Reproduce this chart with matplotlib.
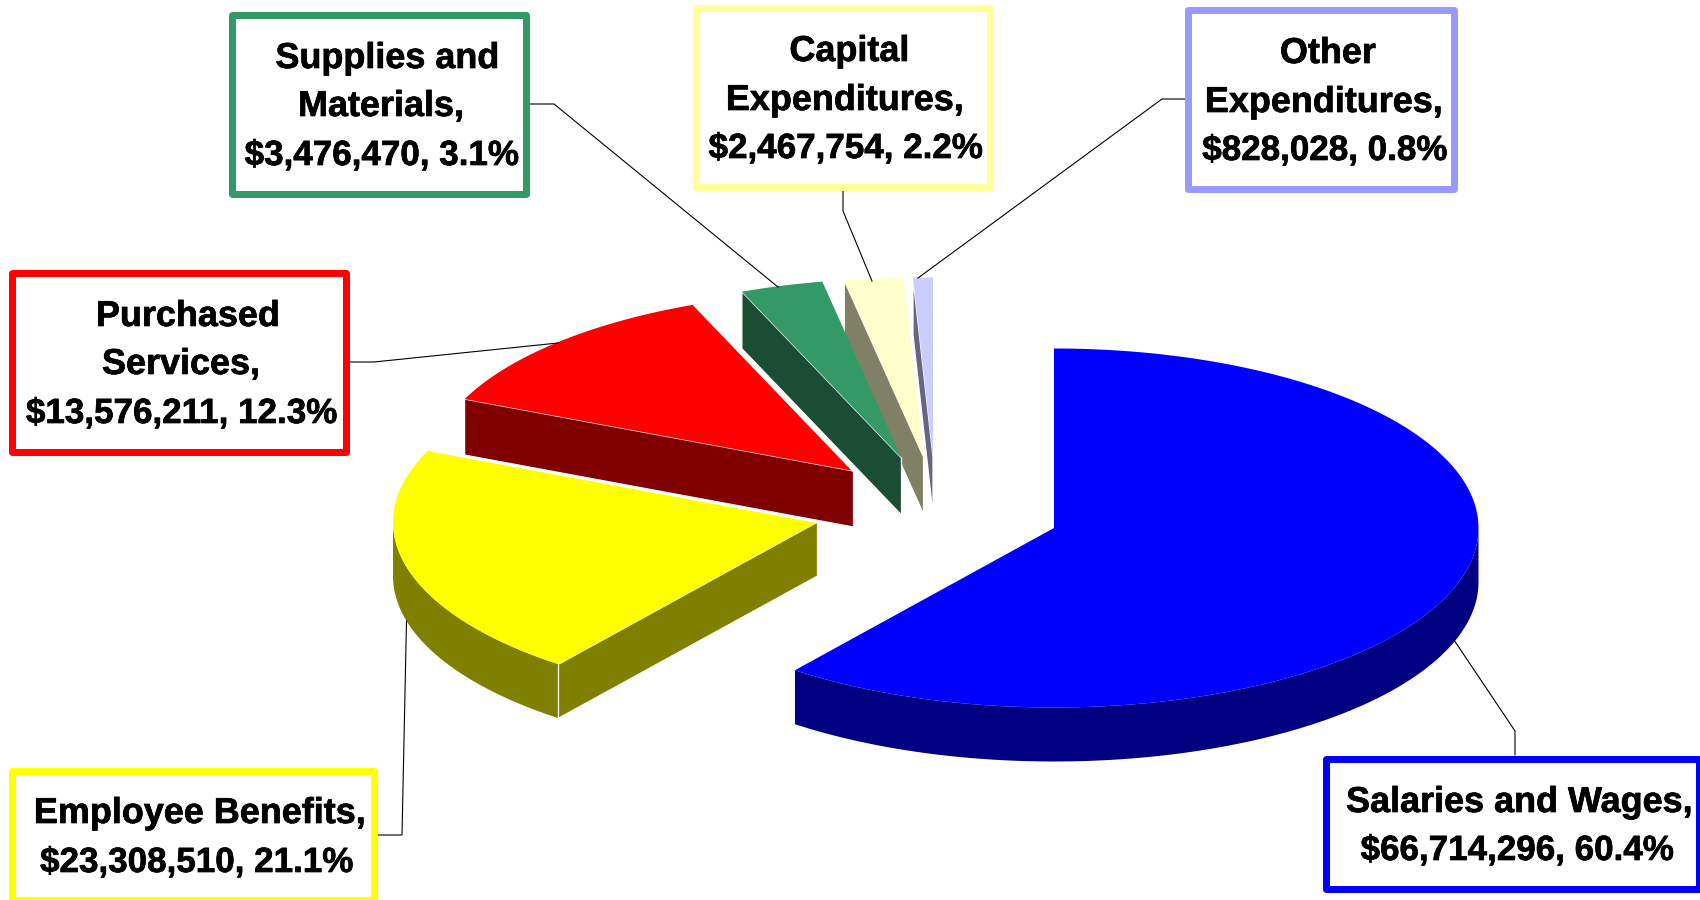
import numpy as np
import matplotlib
matplotlib.use("Agg")
import matplotlib.pyplot as plt
import matplotlib.patheffects as pe
from matplotlib.patches import Polygon, Rectangle

# ---- data ----
categories = ["Salaries and Wages", "Employee Benefits", "Purchased Services",
              "Supplies and Materials", "Capital Expenditures", "Other Expenditures"]
amounts = [66714296, 23308510, 13576211, 3476470, 2467754, 828028]
percents = [60.4, 21.1, 12.3, 3.1, 2.2, 0.8]

# ---- styles / layout ----
top_colors = ["#0000FF", "#FFFF00", "#FF0000", "#339966", "#FFFFCC", "#CCCCFF"]
side_colors = ["#000080", "#808000", "#800000", "#1A4D33", "#808066", "#666680"]
border_colors = ["#0000FF", "#FFFF00", "#FF0000", "#339966", "#FFFF99", "#9999FF"]
apex_x = [1054, 817.5, 853.5, 901.5, 923.5, 933]
apex_y = [528, 522, 471, 458, 457, 457]
depths = [54, 54, 56, 57, 57, 57]
edge_halo = [0, 2.2, 2.2, 0, 0, 0]
RX, RY = 424.5, 179.5
BOX_LW = 7

boxes = [(1323, 755, 1703, 892), (9, 767, 378, 903), (9, 269, 350, 455),
         (229, 11, 530, 197), (693, 4, 994, 190), (1185, 6, 1458, 192)]
leaders = [[(1515, 755), (1515, 731), (1454, 640)],
           [(378, 835), (402, 835), (406.5, 621)],
           [(350, 362), (374, 362), (558, 343)],
           [(530, 104), (554, 104), (778, 287)],
           [(843, 190), (843, 211), (872, 281)],
           [(1185, 99), (1162, 99), (918, 278)]]
label_lines = [
    [("Salaries and Wages,", 1519.5, 812), ("{amt}, {pct}%", 1517.5, 860)],
    [("Employee Benefits,", 200, 823), ("{amt}, {pct}%", 197, 872)],
    [("Purchased", 188, 326), ("Services,", 181, 374), ("{amt}, {pct}%", 182, 423)],
    [("Supplies and", 387.5, 68), ("Materials,", 381, 116), ("{amt}, {pct}%", 382, 165)],
    [("Capital", 849.5, 61), ("Expenditures,", 845, 110), ("{amt}, {pct}%", 846, 158)],
    [("Other", 1328, 63), ("Expenditures,", 1324, 112), ("{amt}, {pct}%", 1325, 160)],
]

px = 72 / 100  # points per pixel at dpi 100
fig = plt.figure(figsize=(17, 9), dpi=100, facecolor="white")
ax = fig.add_axes([0, 0, 1, 1])
ax.set_xlim(0, 1700)
ax.set_ylim(900, 0)
ax.axis("off")

total = sum(amounts)
sweeps = [a / total * 360 for a in amounts]
starts = [90 - s for s in np.cumsum([0] + sweeps[:-1])]


def pt(cx, cy, deg):
    r = np.radians(deg)
    return cx + RX * np.cos(r), cy - RY * np.sin(r)


for i in reversed(range(len(amounts))):
    a0, sw = starts[i], sweeps[i]
    a1 = a0 - sw
    cx, cy = apex_x[i], apex_y[i]
    depth = depths[i]
    th = np.linspace(a0, a1, 240)
    xs, ys = pt(cx, cy, th)

    # outer curved side
    vis = np.sin(np.radians(th)) <= 0
    if vis.any():
        ax_, ay_ = xs[vis], ys[vis]
        verts = np.r_[np.c_[ax_, ay_], np.c_[ax_, ay_ + depth][::-1]]
        ax.add_patch(Polygon(verts, closed=True, fc=side_colors[i], ec="none", zorder=i * -3 + 20))

    # flat cut face at the start of the slice
    if np.sin(np.radians(a0 + 90)) < 0:
        ex, ey = pt(cx, cy, a0)
        verts = [(cx, cy), (ex, ey), (ex, ey + depth), (cx, cy + depth)]
        ax.add_patch(Polygon(verts, closed=True, fc=side_colors[i], ec="white", lw=0.9,
                             zorder=i * -3 + 20.5))

    # top face
    verts = np.r_[[(cx, cy)], np.c_[xs, ys]]
    ax.add_patch(Polygon(verts, closed=True, fc=top_colors[i], ec="none", zorder=i * -3 + 21))
    if edge_halo[i]:
        ex, ey = pt(cx, cy, a1)
        ax.plot([cx, ex], [cy, ey], color="white", lw=edge_halo[i] * px, zorder=i * -3 + 21.5,
                solid_capstyle="butt")

for i, cat in enumerate(categories):
    ln = np.array(leaders[i])
    ax.plot(ln[:, 0], ln[:, 1], color="black", lw=0.8, zorder=40, solid_joinstyle="miter")
    x0, y0, x1, y1 = boxes[i]
    ins = BOX_LW / 2
    ax.add_patch(Rectangle((x0 + ins, y0 + ins), x1 - x0 - BOX_LW, y1 - y0 - BOX_LW,
                           fc="white", ec=border_colors[i], lw=BOX_LW * px,
                           joinstyle="round", zorder=41))
    for text, tx, ty in label_lines[i]:
        s = text.format(amt=f"${amounts[i]:,}", pct=percents[i])
        size = 25.2 if "{amt}" in text else 25.9
        ax.text(tx, ty, s, ha="center", va="baseline", family="Liberation Sans",
                weight="bold", fontsize=size, color="black", zorder=42,
                path_effects=[pe.withStroke(linewidth=0.5, foreground="black")])

fig.savefig("out.png", dpi=100)
